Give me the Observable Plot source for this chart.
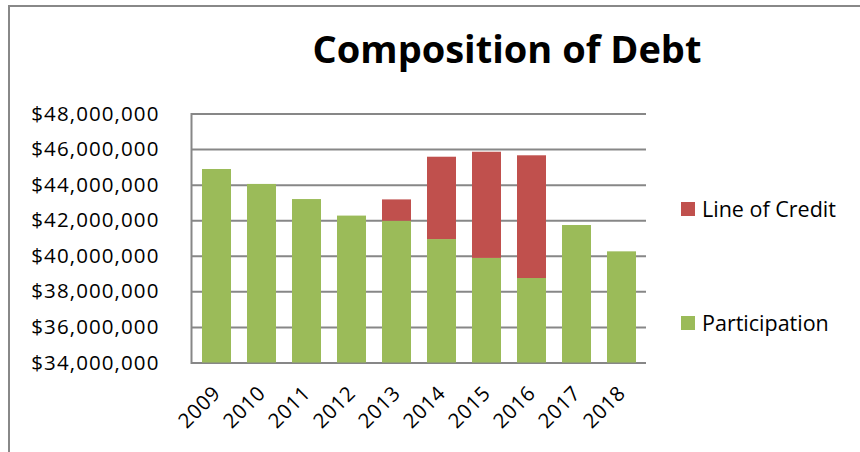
<!DOCTYPE html>
<html>
<head>
<meta charset="utf-8">
<script src="https://cdn.jsdelivr.net/npm/d3@7"></script>
<script src="https://cdn.jsdelivr.net/npm/@observablehq/plot@0.6"></script>
<style>
  html, body { margin: 0; padding: 0; background: #fff; }
  #wrap { position: relative; width: 860px; height: 452px; overflow: hidden; background: #fff; font-family: "Open Sans", sans-serif; }
  #border { position: absolute; left: 8px; top: 5px; width: 900px; height: 500px; border-top: 2px solid #888; border-left: 2px solid #888; box-sizing: border-box; }
  #title { position: absolute; left: 0; width: 1014px; top: 29px; text-align: center; font-weight: 700; font-size: 38px; line-height: 38px; color: #000; white-space: nowrap; }
  #chart { position: absolute; left: 0; top: 0; }
  #chart g[aria-label="y-axis tick label"] text { letter-spacing: 1.1px; }
  #chart g[aria-label="x-axis tick label"] text { letter-spacing: 0.6px; }
  .leg { position: absolute; left: 681px; font-size: 21.5px; line-height: 21.5px; color: #000; white-space: nowrap; }
  .leg .sw { position: absolute; left: 0; width: 14px; height: 14px; }
  .leg .tx { position: absolute; left: 21px; top: 0; }
</style>
</head>
<body>
<div id="wrap">
  <div id="border"></div>
  <div id="title">Composition of Debt</div>
  <div id="chart"></div>
  <div id="legend"></div>
</div>
<script>
// ---- data ----
const years = ["2009","2010","2011","2012","2013","2014","2015","2016","2017","2018"];
const participation = [44.88e6, 44.04e6, 43.19e6, 42.26e6, 41.97e6, 40.94e6, 39.88e6, 38.75e6, 41.73e6, 40.25e6];
const lineOfCredit  = [0, 0, 0, 0, 1.20e6, 4.63e6, 5.97e6, 6.90e6, 0, 0];
const seriesNames = ["Participation", "Line of Credit"];
const seriesColors = ["#9BBB59", "#C0504D"];
const yTicks = [34e6, 36e6, 38e6, 40e6, 42e6, 44e6, 46e6, 48e6];

const rows = [];
years.forEach((y, i) => {
  rows.push({year: y, series: seriesNames[0], value: participation[i]});
  rows.push({year: y, series: seriesNames[1], value: lineOfCredit[i]});
});

const fmt = d => "$" + d3.format(",")(d);
const gray = "#878787";

const chart = Plot.plot({
  width: 860,
  height: 452,
  marginLeft: 191,
  marginRight: 214,
  marginTop: 113.5,
  marginBottom: 89.5,
  style: {fontFamily: "'Open Sans', sans-serif", background: "transparent", overflow: "visible"},
  x: {domain: years, paddingInner: 0.36, paddingOuter: 0.18, label: null},
  y: {domain: [34e6, 48e6], label: null},
  color: {domain: seriesNames, range: seriesColors},
  marks: [
    Plot.gridY(yTicks, {stroke: gray, strokeOpacity: 1, strokeWidth: 2}),
    Plot.barY(rows, {x: "year", y: "value", fill: "series", order: seriesNames, clip: true}),
    Plot.frame({anchor: "left", stroke: gray, strokeWidth: 2}),
    Plot.axisY(yTicks, {tickSize: 0, tickPadding: 32, tickFormat: fmt, fontSize: 20.5, fill: "#000"}),
    Plot.axisX({tickSize: 0, tickRotate: -45, tickPadding: 27, fontSize: 20.5, fill: "#000"})
  ]
});
document.getElementById("chart").appendChild(chart);

// legend
const legend = document.getElementById("legend");
const legTops = {"Line of Credit": 197.6, "Participation": 311.9};
["Line of Credit", "Participation"].forEach(name => {
  const i = seriesNames.indexOf(name);
  const item = document.createElement("div");
  item.className = "leg";
  item.style.top = legTops[name] + "px";
  const sw = document.createElement("div");
  sw.className = "sw";
  sw.style.background = seriesColors[i];
  sw.style.top = "4.5px";
  const tx = document.createElement("div");
  tx.className = "tx";
  tx.textContent = name;
  item.appendChild(sw);
  item.appendChild(tx);
  legend.appendChild(item);
});
</script>
</body>
</html>
